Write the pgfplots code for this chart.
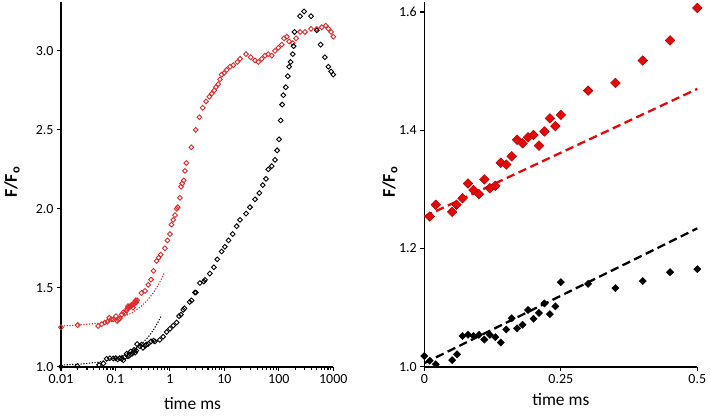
\documentclass[border=0pt]{standalone}
\usepackage{fontspec}
\setmainfont{Carlito}
\usepackage{pgfplots}
\pgfplotsset{compat=1.18}
\definecolor{redm}{RGB}{226,30,30}
\definecolor{redf}{RGB}{225,10,10}
\definecolor{rede}{RGB}{185,0,0}
\definecolor{redl}{RGB}{225,40,40}
\pgfplotsset{
  common/.style={
    scale only axis,
    height=364.7bp,
    axis x line*=bottom,
    axis y line*=left,
    axis line style={line width=1.6bp,black},
    tick align=outside,
    major tick length=4bp,
    tick style={line width=1.1bp,black},
    minor tick num=0,
    clip=false,
    /pgf/number format/assume math mode=true,
    tick label style={font=\fontsize{14}{16}\selectfont},
    label style={font=\fontsize{17.5}{20}\selectfont},
  }
}
\begin{document}
\begin{tikzpicture}[x=1bp,y=1bp]
\path[use as bounding box] (0,0) rectangle (710,415);
% ---------------- left panel ----------------
\begin{axis}[common,
  at={(61bp,48.3bp)}, anchor=south west,
  width=272.3bp,
  xmode=log, xmin=0.01, xmax=1000,
  xtick={0.01,0.1,1,10,100,1000},
  xticklabels={0.01,0.1,1,10,100,1000},
  ymin=1, ymax=3.31,
  ytick={1,1.5,2,2.5,3},
  yticklabel style={/pgf/number format/.cd,fixed,fixed zerofill,precision=1},
  xlabel={time ms},
  xlabel style={at={(axis description cs:0.483,-0.102)},anchor=center},
  ylabel={\textbf{F/F\textsubscript{o}}},
  ylabel style={at={(axis description cs:-0.18,0.506)},anchor=center,font=\fontsize{18}{22}\selectfont},
]
\addplot[only marks, mark=square, mark size=1.7bp, mark options={rotate=45,draw=redl,line width=0.9bp}] coordinates {
(0.01,1.25) (0.0203,1.264) (0.048,1.258) (0.056,1.27) (0.064,1.28) (0.071,1.285) (0.077,1.31) (0.084,1.30) (0.091,1.30) (0.102,1.32) (0.107,1.29) (0.113,1.30) (0.12,1.305) (0.13,1.33) (0.14,1.345) (0.15,1.34) (0.16,1.356) (0.165,1.37) (0.17,1.384) (0.18,1.378) (0.185,1.38) (0.19,1.388) (0.2,1.392) (0.206,1.39) (0.21,1.374) (0.22,1.398) (0.228,1.41) (0.235,1.42) (0.24,1.407) (0.25,1.42) (0.3,1.467) (0.35,1.48) (0.4,1.518) (0.45,1.552) (0.5,1.607) (0.57,1.67) (0.62,1.69) (0.68,1.71) (0.81,1.75) (0.9,1.80) (1.0,1.84) (1.07,1.90) (1.15,1.93) (1.24,1.96) (1.33,2.0) (1.39,2.01) (1.53,2.07) (1.6,2.14) (1.68,2.16) (1.79,2.18) (1.89,2.24) (2.0,2.29) (2.47,2.39) (2.97,2.50) (3.47,2.58) (4.0,2.64) (4.6,2.68) (5.3,2.71) (5.86,2.73) (6.5,2.75) (7.0,2.77) (7.7,2.79) (8.3,2.82) (8.9,2.85) (9.9,2.86) (11,2.88) (12.7,2.9) (14.6,2.91) (17.3,2.93) (19.4,2.95) (25,2.98) (30.5,2.96) (36.6,2.94) (42,2.93) (48.5,2.95) (55.7,2.97) (64,2.98) (74,2.97) (85,3.0) (98,3.02) (113,3.04) (124,3.08) (140,3.09) (155,3.06) (180,3.05) (207,3.08) (245,3.12) (302,3.12) (390,3.14) (497,3.14) (614,3.15) (727,3.16) (812,3.14) (910,3.12) (1000,3.09)
};
\addplot[only marks, mark=square, mark size=1.7bp, mark options={rotate=45,draw=black,line width=0.9bp}] coordinates {
(0.01,1.0) (0.02,1.004) (0.05,1.011) (0.06,1.021) (0.069,1.05) (0.079,1.054) (0.091,1.052) (0.101,1.054) (0.11,1.046) (0.12,1.054) (0.131,1.05) (0.14,1.041) (0.151,1.063) (0.161,1.082) (0.17,1.065) (0.18,1.071) (0.19,1.096) (0.201,1.081) (0.211,1.091) (0.221,1.107) (0.23,1.089) (0.24,1.102) (0.25,1.143) (0.28,1.13) (0.3,1.14) (0.32,1.12) (0.35,1.133) (0.37,1.14) (0.4,1.145) (0.45,1.16) (0.5,1.165) (0.53,1.16) (0.65,1.17) (0.75,1.19) (0.87,1.22) (1.0,1.24) (1.15,1.26) (1.33,1.28) (1.47,1.32) (1.6,1.33) (1.76,1.36) (1.85,1.37) (2.3,1.41) (2.5,1.42) (2.87,1.47) (3.0,1.47) (3.55,1.53) (4.2,1.54) (4.4,1.55) (5.4,1.59) (6.4,1.63) (7.4,1.68) (8.9,1.73) (10.2,1.76) (11.9,1.80) (14.2,1.84) (16.8,1.89) (19.4,1.93) (25,1.97) (29.5,2.01) (36.6,2.06) (43.8,2.10) (50.6,2.15) (58,2.19) (64,2.25) (74,2.27) (85,2.31) (93,2.37) (101,2.44) (108,2.56) (115,2.66) (121,2.72) (134,2.77) (146,2.84) (155,2.90) (164,2.93) (180,2.98) (186,3.03) (194,3.12) (245,3.22) (290,3.25) (390,3.22) (497,3.13) (585,3.04) (700,2.96) (810,2.90) (910,2.87) (1000,2.85)
};
\addplot[redl, line width=1.1bp, dash pattern=on 1.2bp off 1.6bp] coordinates {
(0.01,1.258) (0.02,1.263) (0.05,1.276) (0.1,1.297) (0.2,1.340) (0.3,1.384) (0.4,1.427) (0.5,1.470) (0.6,1.513) (0.7,1.556) (0.79,1.595)
};
\addplot[black, line width=1.1bp, dash pattern=on 1.2bp off 1.6bp] coordinates {
(0.01,1.011) (0.02,1.015) (0.05,1.029) (0.1,1.052) (0.2,1.097) (0.3,1.143) (0.4,1.188) (0.5,1.234) (0.6,1.280) (0.7,1.325)
};
\end{axis}
% ---------------- right panel ----------------
\begin{axis}[common,
  at={(424.3bp,48.3bp)}, anchor=south west,
  width=273bp,
  xmin=0, xmax=0.5,
  xtick={0,0.25,0.5},
  xticklabels={0,0.25,0.5},
  ymin=1, ymax=1.617,
  ytick={1,1.2,1.4,1.6},
  yticklabel style={/pgf/number format/.cd,fixed,fixed zerofill,precision=1},
  xlabel={time ms},
  xlabel style={at={(axis description cs:0.5,-0.091)},anchor=center},
  ylabel={\textbf{F/F\textsubscript{o}}},
  ylabel style={at={(axis description cs:-0.126,0.506)},anchor=center,font=\fontsize{18}{22}\selectfont},
]
\addplot[redf, line width=2.3bp, dash pattern=on 8.5bp off 4.5bp] coordinates {(0,1.254) (0.5,1.47)};
\addplot[black, line width=2.3bp, dash pattern=on 8.5bp off 4.5bp] coordinates {(0,1.006) (0.5,1.234)};
\addplot[only marks, mark=square*, mark size=3.4bp, mark options={rotate=45,fill=redf,draw=rede,line width=0.5bp}] coordinates {
(0.01,1.254) (0.021,1.274) (0.051,1.262) (0.059,1.274) (0.07,1.285) (0.08,1.31) (0.09,1.299) (0.10,1.292) (0.11,1.317) (0.12,1.302) (0.13,1.306) (0.14,1.345) (0.15,1.342) (0.16,1.356) (0.17,1.384) (0.18,1.378) (0.19,1.388) (0.20,1.392) (0.21,1.374) (0.22,1.398) (0.23,1.42) (0.24,1.407) (0.25,1.426) (0.30,1.467) (0.35,1.48) (0.40,1.518) (0.45,1.552) (0.50,1.607)
};
\addplot[only marks, mark=square*, mark size=2.6bp, mark options={rotate=45,fill=black,draw=black,line width=0.3bp}] coordinates {
(0,1.018) (0.01,1.01) (0.021,1.004) (0.051,1.011) (0.06,1.021) (0.07,1.052) (0.08,1.054) (0.09,1.052) (0.10,1.054) (0.11,1.046) (0.12,1.054) (0.13,1.05) (0.14,1.041) (0.15,1.063) (0.16,1.082) (0.17,1.065) (0.18,1.071) (0.19,1.096) (0.20,1.081) (0.21,1.091) (0.22,1.107) (0.23,1.089) (0.24,1.102) (0.25,1.143) (0.30,1.14) (0.35,1.133) (0.40,1.145) (0.45,1.16) (0.50,1.165)
};
\end{axis}
\end{tikzpicture}
\end{document}
